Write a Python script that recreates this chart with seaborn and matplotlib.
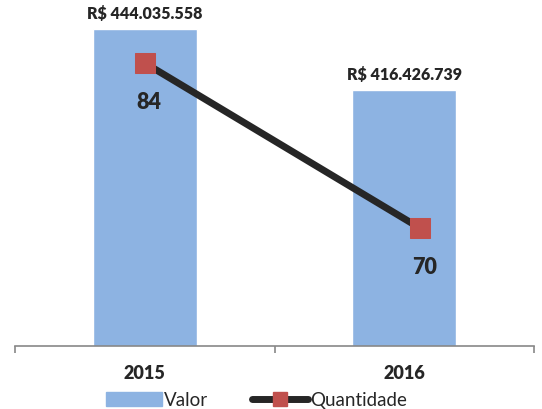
import matplotlib
matplotlib.use("Agg")
import matplotlib.pyplot as plt
import seaborn as sns
import pandas as pd
from matplotlib.patches import Patch
from matplotlib.lines import Line2D

# dados do gráfico
anos = ["2015", "2016"]
valor = [444035558, 416426739]
quantidade = [84, 70]

cor_barra = "#8DB3E2"
cor_linha = "#262626"
cor_marcador = "#C0504D"

sns.set_style("white")
plt.rcParams["font.family"] = ["Lato", "DejaVu Sans"]

df = pd.DataFrame({"Ano": anos, "Valor": valor, "Quantidade": quantidade})

fig = plt.figure(figsize=(5.42, 4.09), dpi=100)
pos = [15 / 542, 63 / 409, 519 / 542, 330 / 409]
ax = fig.add_axes(pos)

sns.barplot(data=df, x="Ano", y="Valor", color=cor_barra, width=0.4,
            saturation=1, ax=ax)
ax.set_xlim(-0.5, 1.5)
ax.set_ylim(300e6, 450e6)
ax.set_xlabel("")
ax.set_ylabel("")
ax.set_yticks([])
for s in ["top", "right", "left"]:
    ax.spines[s].set_visible(False)
ax.spines["bottom"].set_color("#888888")
ax.spines["bottom"].set_linewidth(1.2)
ax.set_xticks([-0.5, 0.5, 1.5], minor=True)
ax.tick_params(axis="x", which="minor", length=5, width=1.2, color="#888888",
               direction="out", bottom=True)
ax.tick_params(axis="x", which="major", length=0, pad=14, labelsize=13)
for t in ax.get_xticklabels():
    t.set_fontweight("heavy")

ax.bar_label(ax.containers[0],
             labels=["R$ " + f"{v:,.0f}".replace(",", ".") for v in valor],
             padding=5, fontsize=11.5, fontweight="heavy")

# eixo secundário para a quantidade
ax2 = fig.add_axes(pos, frameon=False)
df["pos"] = range(len(anos))
sns.lineplot(data=df, x="pos", y="Quantidade", color=cor_linha, linewidth=5,
             marker="s", markersize=14, markerfacecolor=cor_marcador,
             markeredgecolor=cor_marcador, ax=ax2)
ax2.set_xlim(-0.4727, 1.4145)
ax2.set_ylim(60, 88)
ax2.set_xticks([])
ax2.set_yticks([])
ax2.set_xlabel("")
ax2.set_ylabel("")
for x, q in zip(df["pos"], quantidade):
    ax2.annotate(str(q), (x, q), xytext=(3, -28), textcoords="offset points",
                 ha="center", va="center", fontsize=15.5, fontweight="heavy")

handles = [Patch(facecolor=cor_barra, edgecolor=cor_barra),
           Line2D([0], [0], color=cor_linha, linewidth=5, marker="s",
                  markersize=10, markerfacecolor=cor_marcador,
                  markeredgecolor=cor_marcador)]
fig.legend(handles, ["Valor", "Quantidade"], loc="center",
           bbox_to_anchor=(0.473, 0.022), ncol=2, frameon=False, fontsize=13.5,
           handlelength=3.0, handletextpad=0.1, columnspacing=2.3)

fig.savefig("out.png", dpi=100)
